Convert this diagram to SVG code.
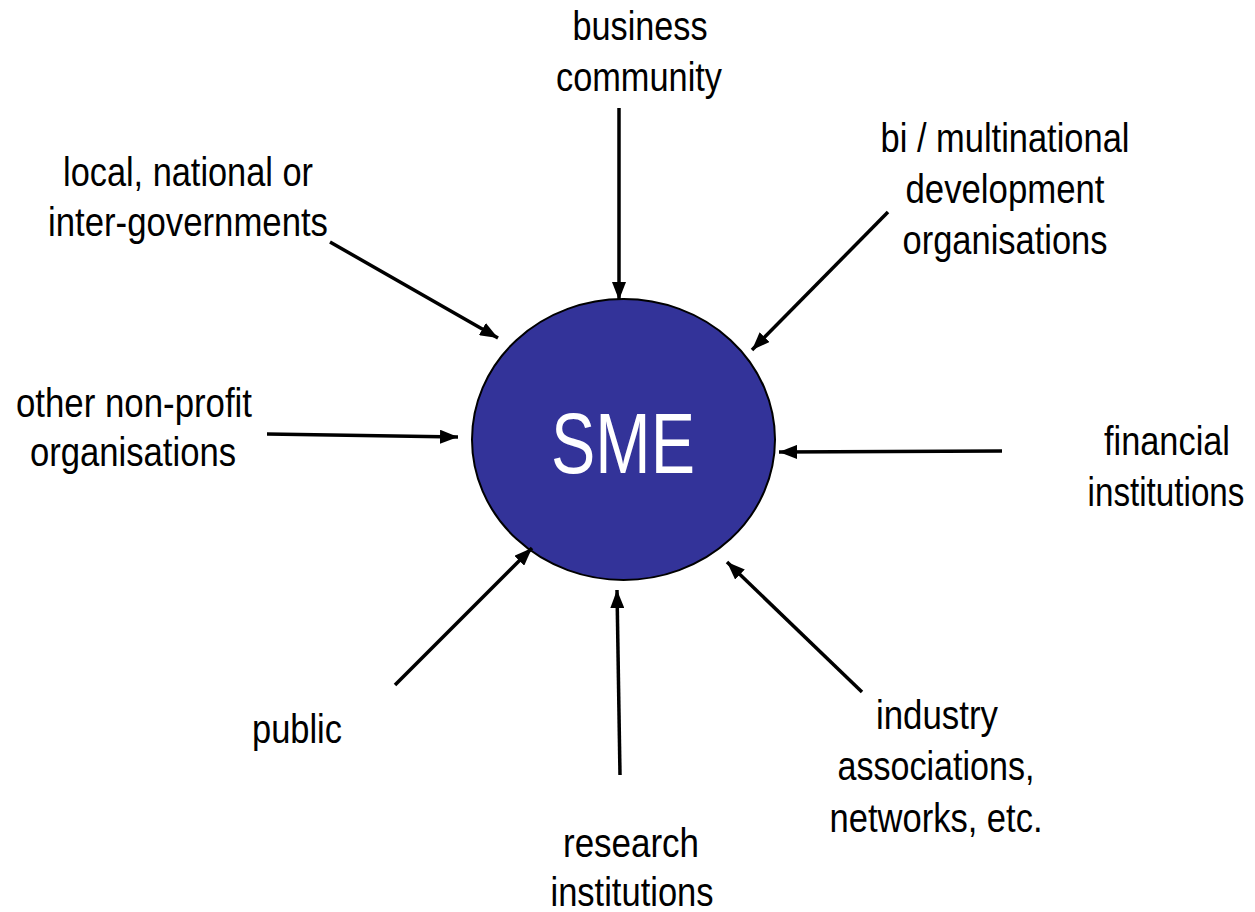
<svg xmlns="http://www.w3.org/2000/svg" width="1255" height="912" viewBox="0 0 1255 912">
<style>
.lbl{font-family:"Liberation Sans Narrow","Arial Narrow","Liberation Sans",sans-serif;font-size:40px;fill:#000;text-anchor:middle}
.sme{font-family:"Liberation Sans Narrow","Arial Narrow","Liberation Sans",sans-serif;font-size:86px;fill:#fff;text-anchor:middle}
.arr{stroke:#000;stroke-width:3.5;fill:none;marker-end:url(#ah)}
</style>
<defs>
<marker id="ah" markerUnits="userSpaceOnUse" viewBox="0 0 18 14" markerWidth="18" markerHeight="14" refX="18" refY="7" orient="auto">
<path d="M0,0 L18,7 L0,14 z" fill="#000"/>
</marker>
</defs>
<rect width="1255" height="912" fill="#fff"/>
<g id="sme">
<ellipse cx="623.5" cy="439.5" rx="151.5" ry="140.5" fill="#333399" stroke="#000" stroke-width="2"/>
<text class="sme" x="623" y="473" textLength="144" lengthAdjust="spacingAndGlyphs">SME</text>
</g>
<g id="business-community"><text class="lbl" x="640" y="40" textLength="135" lengthAdjust="spacingAndGlyphs">business</text><text class="lbl" x="639" y="91" textLength="166" lengthAdjust="spacingAndGlyphs">community</text></g>
<g id="governments"><text class="lbl" x="188" y="186" textLength="250" lengthAdjust="spacingAndGlyphs">local, national or</text><text class="lbl" x="188" y="236" textLength="280" lengthAdjust="spacingAndGlyphs">inter-governments</text></g>
<g id="development-orgs"><text class="lbl" x="1005" y="152" textLength="249" lengthAdjust="spacingAndGlyphs">bi / multinational</text><text class="lbl" x="1005" y="203" textLength="199" lengthAdjust="spacingAndGlyphs">development</text><text class="lbl" x="1005" y="254" textLength="205" lengthAdjust="spacingAndGlyphs">organisations</text></g>
<g id="non-profit"><text class="lbl" x="134" y="417" textLength="236" lengthAdjust="spacingAndGlyphs">other non-profit</text><text class="lbl" x="133" y="466" textLength="206" lengthAdjust="spacingAndGlyphs">organisations</text></g>
<g id="financial"><text class="lbl" x="1167" y="455" textLength="126" lengthAdjust="spacingAndGlyphs">financial</text><text class="lbl" transform="translate(1166,506) scale(0.83,1)" x="0" y="0">institutions</text></g>
<g id="public"><text class="lbl" x="297" y="743" textLength="90" lengthAdjust="spacingAndGlyphs">public</text></g>
<g id="industry"><text class="lbl" x="937" y="729" textLength="122" lengthAdjust="spacingAndGlyphs">industry</text><text class="lbl" x="936" y="780" textLength="197" lengthAdjust="spacingAndGlyphs">associations,</text><text class="lbl" x="936" y="832" textLength="213" lengthAdjust="spacingAndGlyphs">networks, etc.</text></g>
<g id="research"><text class="lbl" x="631" y="857" textLength="136" lengthAdjust="spacingAndGlyphs">research</text><text class="lbl" x="632" y="906" textLength="163" lengthAdjust="spacingAndGlyphs">institutions</text></g>
<g id="connectors">
<line class="arr" x1="619" y1="108" x2="619" y2="300"/>
<line class="arr" x1="330" y1="242" x2="498" y2="338"/>
<line class="arr" x1="888" y1="212" x2="752" y2="350"/>
<line class="arr" x1="267" y1="434" x2="458" y2="437"/>
<line class="arr" x1="1002" y1="451" x2="779" y2="452"/>
<line class="arr" x1="395" y1="685" x2="532" y2="548"/>
<line class="arr" x1="620" y1="775" x2="617" y2="590"/>
<line class="arr" x1="862" y1="692" x2="727" y2="562"/>
</g>
</svg>
